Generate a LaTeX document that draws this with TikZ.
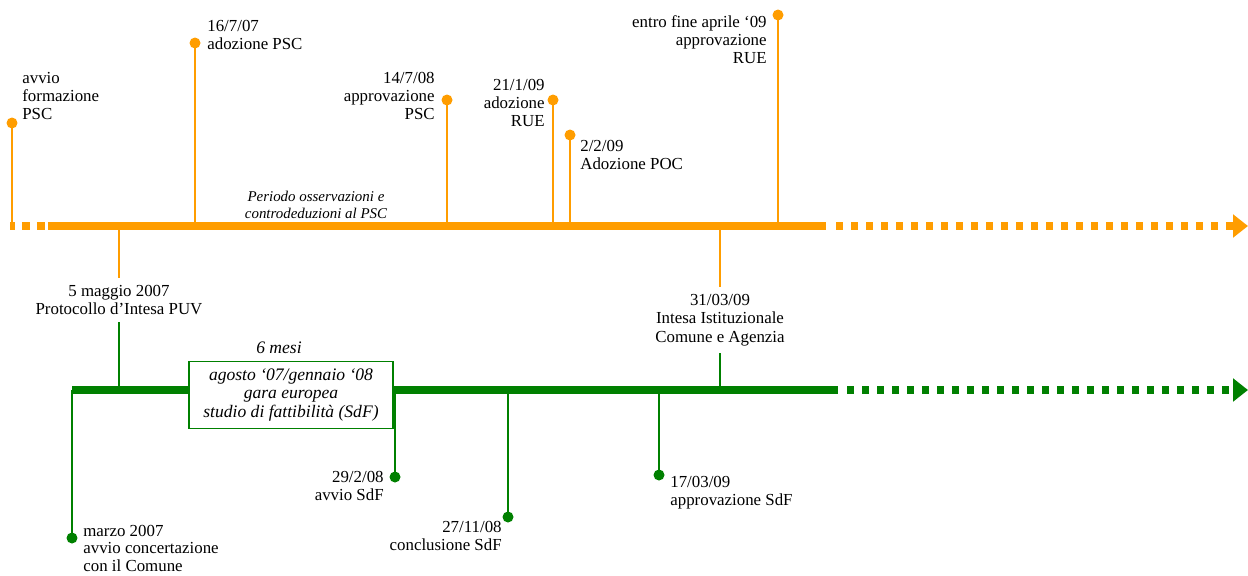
\documentclass[tikz,border=0pt]{standalone}
\usepackage{fontspec}
\setmainfont{Liberation Serif}
\usetikzlibrary{arrows.meta}
\definecolor{ptorange}{RGB}{255,157,0}
\definecolor{ptgreen}{RGB}{0,128,0}

\begin{document}
\begin{tikzpicture}[x=0.02cm, y=-0.02cm,
    lab/.style={inner sep=0pt, font=\fontsize{9.6}{10.3}\selectfont},
    mid/.style={inner sep=4pt, align=center, font=\fontsize{9.6}{10.6}\selectfont},
    note/.style={inner sep=0pt, align=center, font=\itshape\fontsize{8.5}{9.6}\selectfont},
    odot/.style={circle, fill=ptorange, inner sep=0pt, minimum size=0.22cm},
    gdot/.style={circle, fill=ptgreen, inner sep=0pt, minimum size=0.22cm},
    ostem/.style={draw=ptorange, line width=1.5pt},
    gstem/.style={draw=ptgreen, line width=1.5pt},
    axis/.style={line width=4.4pt},
    dots/.style={line width=4pt, dash pattern=on 0.14cm off 0.16cm},
    tip/.style={-{Triangle[length=0.3cm,width=0.45cm]}},
    sdfbox/.style={draw=ptgreen, fill=white, line width=0.6pt, minimum width=4.08cm,
        minimum height=1.34cm, align=center, font=\itshape\fontsize{10}{10.3}\selectfont}
]
    \useasboundingbox (0,0) rectangle (1248,575);

    % orange timeline (PSC / RUE / POC)
    \coordinate (oS) at (10,226);
    \coordinate (oA) at (48,226);
    \coordinate (oB) at (826,226);
    \coordinate (oC) at (836,226);
    \coordinate (oE) at (1248,226);
    \draw[axis, ptorange, dash pattern=on 0.1cm off 0.14cm on 0.16cm off 0.14cm on 0.16cm off 0.06cm] (oS) -- (oA);
    \draw[axis, ptorange] (oA) -- (oB);
    \draw[dots, ptorange, tip] (oC) -- (oE);

    % green timeline (SdF)
    \coordinate (gS) at (72,390);
    \coordinate (gB) at (838,390);
    \coordinate (gC) at (847,390);
    \coordinate (gE) at (1248,390);
    \draw[axis, ptgreen] (gS) -- (gB);
    \draw[dots, ptgreen, tip] (gC) -- (gE);

    % orange events
    \node[odot] (psc0) at (12,123) {};
    \node[odot] (psc1) at (195,43) {};
    \node[odot] (psc2) at (447,100) {};
    \node[odot] (rue1) at (553,100) {};
    \node[odot] (poc1) at (570,135) {};
    \node[odot] (rue2) at (778,15) {};
    \foreach \d in {psc0,psc1,psc2,rue1,poc1,rue2}
        \draw[ostem] (\d.center) -- (\d |- oA);

    \node[lab, anchor=north west, align=left] (psc0l) at (22,72) {avvio\\formazione\\PSC};
    \node[lab, anchor=north west, align=left] (psc1l) at (207,20) {16/7/07\\adozione PSC};
    \node[lab, anchor=north east, align=right] (psc2l) at (435,72) {14/7/08\\approvazione\\PSC};
    \node[lab, anchor=north east, align=right] (rue1l) at (545,79) {21/1/09\\adozione\\RUE};
    \node[lab, anchor=north west, align=left] (poc1l) at (580,140) {2/2/09\\Adozione POC};
    \node[lab, anchor=north east, align=right] (rue2l) at (767,15) {entro fine aprile ‘09\\approvazione\\RUE};

    \node[note] (osserv) at (316,205) {Periodo osservazioni e\\controdeduzioni al PSC};

    % links between the two lines
    \node[mid] (puv) at (119,300) {5 maggio 2007\\Protocollo d’Intesa PUV};
    \node[mid] (agz) at (720,320) {31/03/09\\Intesa Istituzionale\\Comune e Agenzia};
    \draw[ptorange, line width=0.6pt] (puv |- oA) -- (puv.north);
    \draw[ptgreen, line width=0.6pt] (puv.south) -- (puv |- gS);
    \draw[ptorange, line width=0.6pt] (agz |- oA) -- (agz.north);
    \draw[ptgreen, line width=0.6pt] (agz.south) -- (agz |- gS);

    % gara box
    \node[sdfbox] (gara) at (291,395) {agosto ‘07/gennaio ‘08\\gara europea\\studio di fattibilità (SdF)};
    \node[inner sep=0pt, font=\itshape\fontsize{10}{11}\selectfont] (mesi) at (279,348) {6 mesi};

    % green events
    \node[gdot] (conc) at (72,538) {};
    \node[gdot] (avvio) at (395,477) {};
    \node[gdot] (concl) at (508,517) {};
    \node[gdot] (appr) at (659,475) {};
    \foreach \d in {conc,avvio,concl,appr}
        \draw[gstem] (\d.center) -- (\d |- gS);

    \node[lab, anchor=north west, align=left, font=\fontsize{9.6}{9.8}\selectfont] (concl0) at (83,525) {marzo 2007\\avvio concertazione\\con il Comune};
    \node[lab, anchor=north east, align=right] (avviol) at (384,471) {29/2/08\\avvio SdF};
    \node[lab, anchor=north east, align=right] (concll) at (502,521) {27/11/08\\conclusione SdF};
    \node[lab, anchor=north west, align=left] (apprl) at (670,476) {17/03/09\\approvazione SdF};
\end{tikzpicture}
\end{document}
